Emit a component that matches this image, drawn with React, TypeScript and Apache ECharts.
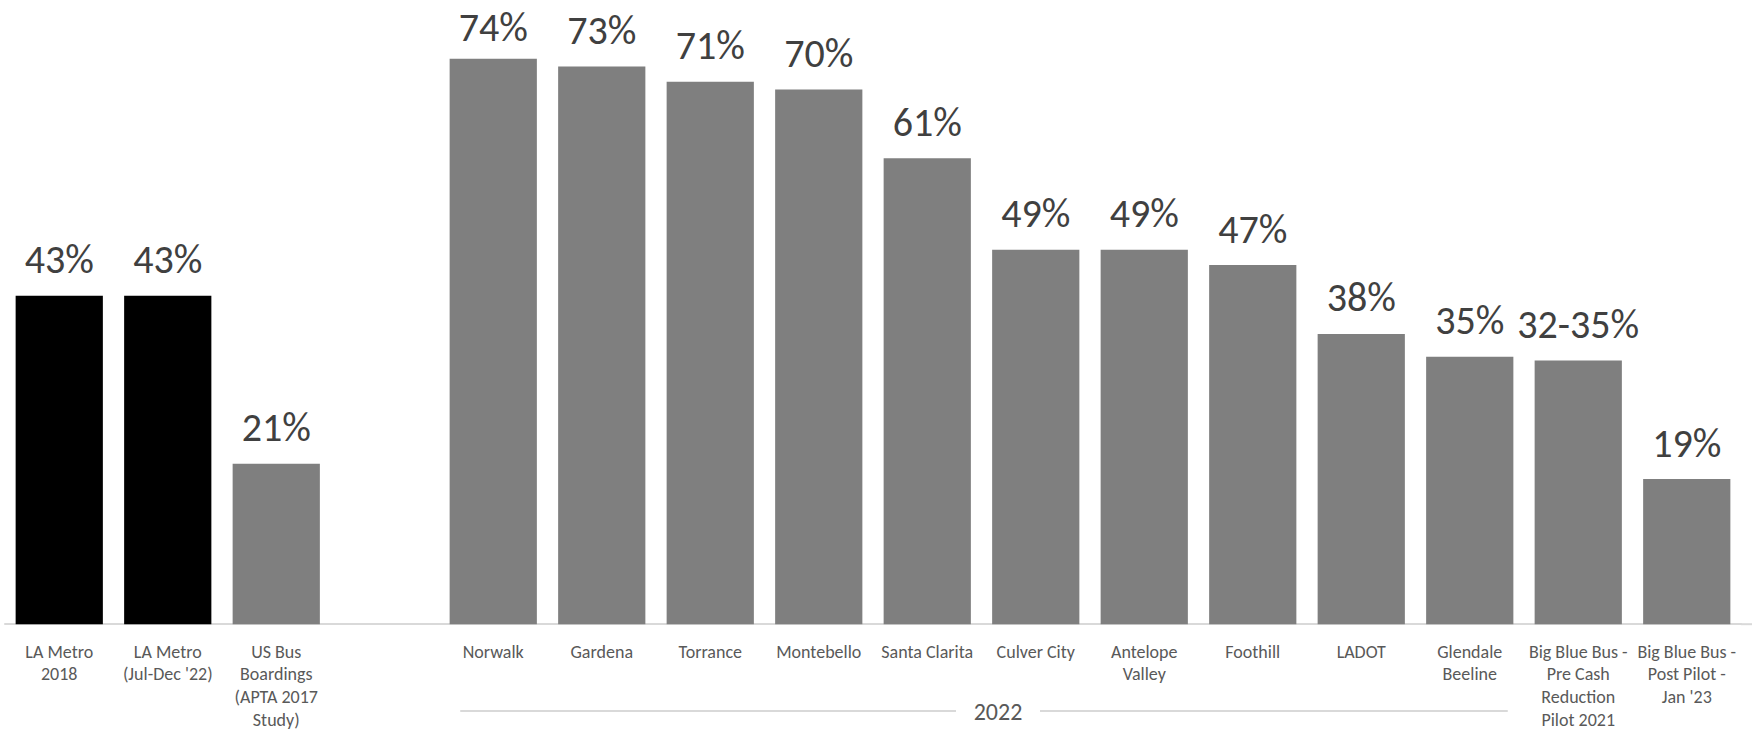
import React, { useEffect, useRef } from "react";
import * as echarts from "echarts";

const categories: string[] = [
  "LA Metro\n2018",
  "LA Metro\n(Jul-Dec '22)",
  "US Bus\nBoardings\n(APTA 2017\nStudy)",
  "",
  "Norwalk",
  "Gardena",
  "Torrance",
  "Montebello",
  "Santa Clarita",
  "Culver City",
  "Antelope\nValley",
  "Foothill",
  "LADOT",
  "Glendale\nBeeline",
  "Big Blue Bus -\nPre Cash\nReduction\nPilot 2021",
  "Big Blue Bus -\nPost Pilot -\nJan '23",
];

const values: (number | null)[] = [43, 43, 21, null, 74, 73, 71, 70, 61, 49, 49, 47, 38, 35, 34.5, 19];
const valueLabels: string[] = ["43%", "43%", "21%", "", "74%", "73%", "71%", "70%", "61%", "49%", "49%", "47%", "38%", "35%", "32-35%", "19%"];
const highlighted: boolean[] = [true, true, false, false, false, false, false, false, false, false, false, false, false, false, false, false];
const groupLabel = "2022";
const groupStart = "Norwalk";
const groupEnd = "Glendale\nBeeline";

const FONT = "Carlito, Calibri, 'Liberation Sans Narrow', 'Noto Sans', sans-serif";

export default function App() {
  const ref = useRef<HTMLDivElement>(null);

  useEffect(() => {
    if (!ref.current) return;
    const chart = echarts.init(ref.current, null, { renderer: "svg" });
    chart.setOption({
      animation: false,
      grid: { left: 5, top: 13, width: 1736, bottom: 102, containLabel: false },
      xAxis: {
        type: "category",
        data: categories,
        axisLine: { show: true, lineStyle: { color: "#d9d9d9", width: 2 } },
        axisTick: { show: false },
        axisLabel: {
          interval: 0,
          color: "#595959",
          fontFamily: FONT,
          fontSize: 18,
          lineHeight: 22.7,
          margin: 16,
        },
      },
      yAxis: {
        type: "value",
        min: 0,
        max: 80,
        show: false,
        splitLine: { show: false },
      },
      series: [
        {
          type: "bar",
          data: values.map((v, i) => ({
            value: v,
            itemStyle: { color: highlighted[i] ? "#000000" : "#7f7f7f" },
            label: { formatter: valueLabels[i], distance: v !== null && v >= 74 ? 11 : 16 },
          })),
          barCategoryGap: "19.6%",
          label: {
            show: true,
            position: "top",
            distance: 16,
            color: "#404040",
            fontFamily: FONT,
            fontSize: 40,
            lineHeight: 40,
          },
        },
      ],
    });

    const x0 = chart.convertToPixel({ xAxisIndex: 0 }, groupStart) as number;
    const x1 = chart.convertToPixel({ xAxisIndex: 0 }, groupEnd) as number;
    const baseY = chart.convertToPixel({ yAxisIndex: 0 }, 0) as number;
    const lineStart = x0 - 33;
    const lineEnd = x1 + 38;
    const mid = (lineStart + lineEnd) / 2 + 14;
    const y = 711;
    const halfGap = 42;
    chart.setOption({
      graphic: [
        { type: "line", shape: { x1: 1741, y1: baseY, x2: 1752, y2: baseY }, style: { stroke: "#d9d9d9", lineWidth: 2 } },
        { type: "line", shape: { x1: lineStart, y1: y, x2: mid - halfGap, y2: y }, style: { stroke: "#d9d9d9", lineWidth: 2 } },
        { type: "line", shape: { x1: mid + halfGap, y1: y, x2: lineEnd, y2: y }, style: { stroke: "#d9d9d9", lineWidth: 2 } },
        {
          type: "text",
          x: mid,
          y: y,
          style: {
            text: groupLabel,
            fill: "#595959",
            font: `24px ${FONT}`,
            textAlign: "center",
            textVerticalAlign: "middle",
          },
        },
      ],
    });

    return () => chart.dispose();
  }, []);

  return (
    <div
      ref={ref}
      style={{ position: "absolute", left: 0, top: 0, width: 1752, height: 731 }}
    />
  );
}
